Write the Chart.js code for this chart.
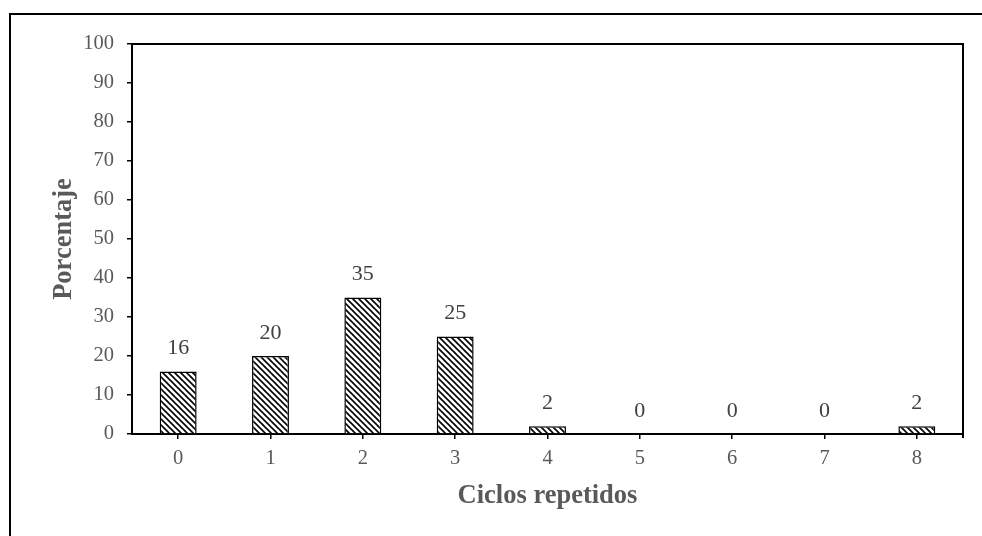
<!DOCTYPE html>
<html>
<head>
<meta charset="utf-8">
<script src="https://cdn.jsdelivr.net/npm/chart.js@4.4.0/dist/chart.umd.min.js"></script>
<style>
    body { margin: 0; background: #fff; overflow: hidden; }
    #frame { position: absolute; left: 9px; top: 13px; width: 1100px; height: 700px; border: 2px solid #000; }
    #wrap { position: absolute; left: 0; top: 0; width: 982px; height: 536px; }
</style>
</head>
<body>
<div id="frame"></div>
<div id="wrap"><canvas id="cyclesChart" width="982" height="536"></canvas></div>
<script>
// Chart data
const cycles = ['0', '1', '2', '3', '4', '5', '6', '7', '8'];
const percentages = [16, 20, 35, 25, 2, 0, 0, 0, 2];
const yTicks = [0, 10, 20, 30, 40, 50, 60, 70, 80, 90, 100];

const labelGray = '#595959';
const serif = '"Liberation Serif", "Times New Roman", serif';

// Diagonal hatch fill for the bars.
function makeHatch() {
    const size = 6;
    const c = document.createElement('canvas');
    c.width = size;
    c.height = size;
    const g = c.getContext('2d');
    g.fillStyle = '#fff';
    g.fillRect(0, 0, size, size);
    g.strokeStyle = '#000';
    g.lineWidth = 1.6;
    g.beginPath();
    g.moveTo(-1, -1); g.lineTo(size + 1, size + 1);
    g.moveTo(size - 1, -1); g.lineTo(size + 1, 1);
    g.moveTo(-1, size - 1); g.lineTo(1, size + 1);
    g.stroke();
    return g.createPattern(c, 'repeat');
}

// Frame on top and right of the plot area.
const plotFrame = {
    id: 'plotFrame',
    afterDraw(chart) {
        const a = chart.chartArea;
        const ctx = chart.ctx;
        ctx.save();
        ctx.strokeStyle = '#000';
        ctx.lineWidth = 2;
        ctx.beginPath();
        ctx.moveTo(a.left, a.top);
        ctx.lineTo(a.right, a.top);
        ctx.lineTo(a.right, a.bottom + 4);
        ctx.stroke();
        ctx.restore();
    }
};

// Value labels above each bar.
const valueLabels = {
    id: 'valueLabels',
    afterDatasetsDraw(chart) {
        const ctx = chart.ctx;
        const meta = chart.getDatasetMeta(0);
        ctx.save();
        ctx.font = '22px ' + serif;
        ctx.fillStyle = '#404040';
        ctx.textAlign = 'center';
        ctx.textBaseline = 'bottom';
        meta.data.forEach((bar, i) => {
            ctx.fillText(String(percentages[i]), bar.x, bar.y - 12);
        });
        ctx.restore();
    }
};

const ctx = document.getElementById('cyclesChart').getContext('2d');
window.myChart = new Chart(ctx, {
    type: 'bar',
    data: {
        labels: cycles,
        datasets: [{
            data: percentages,
            backgroundColor: makeHatch(),
            borderColor: '#000',
            borderWidth: 1.5,
            barPercentage: 1,
            categoryPercentage: 0.4
        }]
    },
    options: {
        responsive: false,
        animation: false,
        layout: { padding: { top: 44, right: 19, left: 0, bottom: 0 } },
        plugins: {
            legend: { display: false },
            tooltip: { enabled: false }
        },
        scales: {
            x: {
                afterFit: s => { s.height = 102; },
                grid: {
                    offset: false,
                    drawOnChartArea: false,
                    drawTicks: true,
                    tickLength: 5,
                    color: '#000',
                    lineWidth: 1.5
                },
                border: { color: '#000', width: 2 },
                ticks: {
                    color: labelGray,
                    font: { family: serif, size: 20.5 },
                    padding: 7
                },
                title: {
                    display: true,
                    text: 'Ciclos repetidos',
                    color: labelGray,
                    font: { family: serif, size: 26.5, weight: 'bold' },
                    padding: { top: 0, bottom: 24 }
                }
            },
            y: {
                min: 0,
                max: 100,
                afterFit: s => { s.width = 132; },
                afterBuildTicks: s => { s.ticks = yTicks.map(v => ({ value: v })); },
                grid: {
                    drawOnChartArea: false,
                    drawTicks: true,
                    tickLength: 5,
                    color: '#000',
                    lineWidth: 1.5
                },
                border: { color: '#000', width: 2 },
                ticks: {
                    color: labelGray,
                    font: { family: serif, size: 20.5 },
                    padding: 13
                },
                title: {
                    display: true,
                    text: 'Porcentaje',
                    color: labelGray,
                    font: { family: serif, size: 26.5, weight: 'bold' },
                    padding: { top: 48, bottom: 0 }
                }
            }
        }
    },
    plugins: [plotFrame, valueLabels]
});
</script>
</body>
</html>
